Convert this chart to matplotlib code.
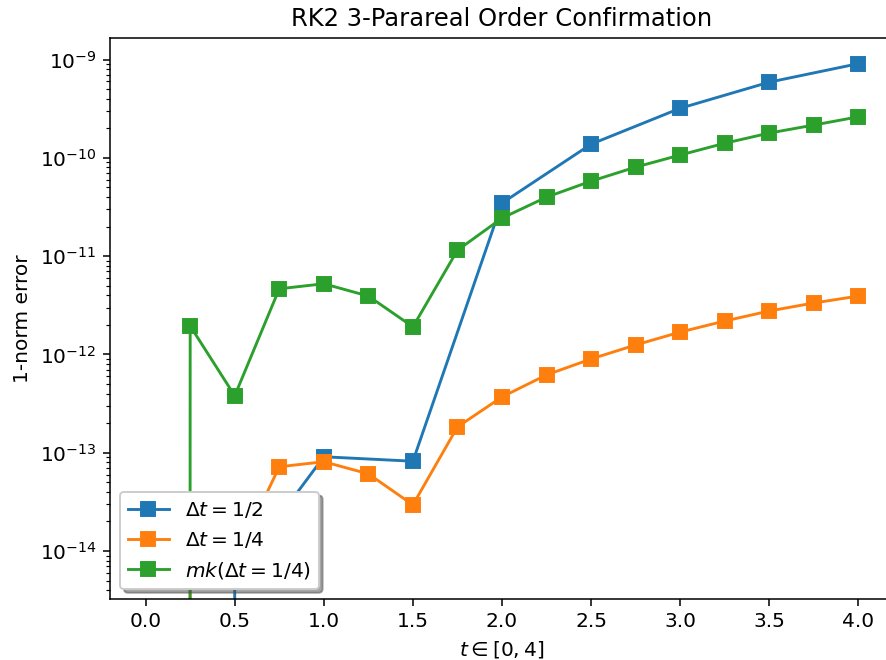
import matplotlib
matplotlib.use("Agg")
import matplotlib.pyplot as plt

# Time grids for the two coarse step sizes
t_half = [0.0, 0.5, 1.0, 1.5, 2.0, 2.5, 3.0, 3.5, 4.0]
t_quarter = [0.0, 0.25, 0.5, 0.75, 1.0, 1.25, 1.5, 1.75, 2.0,
             2.25, 2.5, 2.75, 3.0, 3.25, 3.5, 3.75, 4.0]

# 1-norm errors (zero at the initial time)
err_half = [0.0, 5.5e-15, 9.1e-14, 8.2e-14, 3.47e-11, 1.38e-10,
            3.2e-10, 5.9e-10, 9.1e-10]
err_quarter = [0.0, 1.0e-14, 8.0e-15, 7.2e-14, 8.1e-14, 6.1e-14,
               2.95e-14, 1.83e-13, 3.7e-13, 6.2e-13, 9.0e-13, 1.25e-12,
               1.69e-12, 2.19e-12, 2.77e-12, 3.34e-12, 3.93e-12]
err_mk = [0.0, 1.95e-12, 3.8e-13, 4.66e-12, 5.24e-12, 3.93e-12, 1.91e-12,
          1.15e-11, 2.44e-11, 3.99e-11, 5.8e-11, 8.06e-11, 1.07e-10,
          1.41e-10, 1.79e-10, 2.16e-10, 2.62e-10]

labels = [r"$\Delta t = 1/2$", r"$\Delta t = 1/4$", r"$mk(\Delta t = 1/4)$"]

plt.rcParams["font.size"] = 10.5

dpi = 138.4
fig = plt.figure(figsize=(886 / dpi, 660 / dpi), dpi=dpi)
ax = fig.add_axes([110 / 886, 61 / 660, 784 / 886, 561 / 660])

ax.semilogy(t_half, err_half, "s-", label=labels[0], markersize=7.2)
ax.semilogy(t_quarter, err_quarter, "s-", label=labels[1], markersize=7.2)
ax.semilogy(t_quarter, err_mk, "s-", label=labels[2], markersize=7.2)

ax.set_xlim(-0.2, 4.2)
ax.set_ylim(3.25e-15, 1.66e-9)
ax.set_xlabel(r"$t \in [0, 4]$")
ax.set_ylabel("1-norm error")
ax.set_title("RK2 3-Parareal Order Confirmation")
ax.legend(loc="lower left", shadow=True)

fig.savefig("out.png", dpi=dpi)
